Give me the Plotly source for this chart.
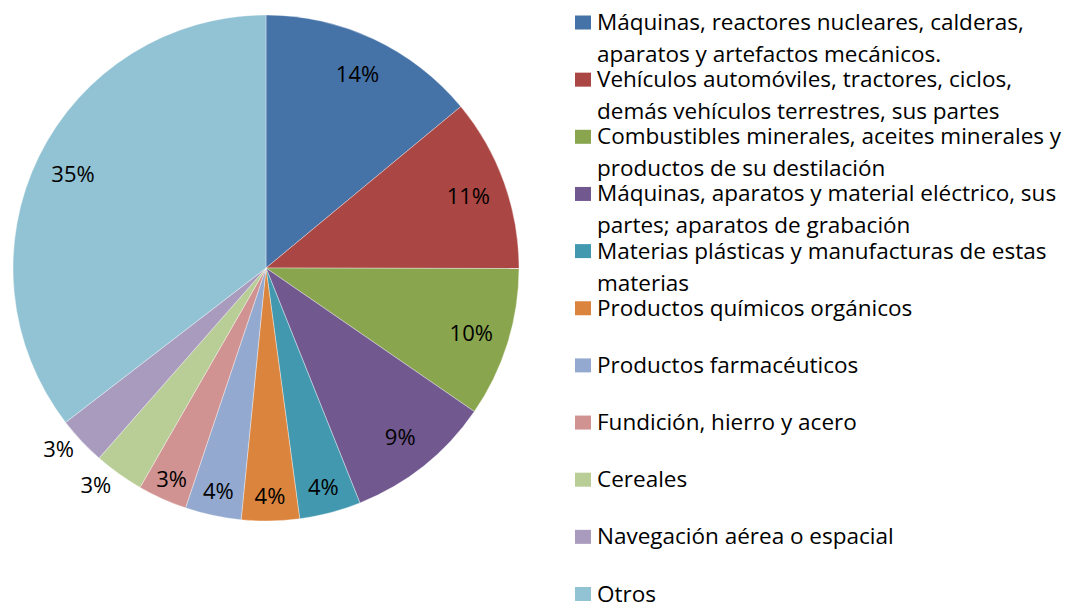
import plotly.graph_objects as go

categories = [
    "Máquinas, reactores nucleares, calderas,<br>aparatos y artefactos mecánicos.",
    "Vehículos automóviles, tractores, ciclos,<br>demás vehículos terrestres, sus partes",
    "Combustibles minerales, aceites minerales y<br>productos de su destilación",
    "Máquinas, aparatos y material eléctrico, sus<br>partes; aparatos de grabación",
    "Materias plásticas y manufacturas de estas<br>materias",
    "Productos químicos orgánicos",
    "Productos farmacéuticos",
    "Fundición, hierro y acero",
    "Cereales",
    "Navegación aérea o espacial",
    "Otros",
]
values = [13.97, 11.03, 9.56, 9.33, 3.92, 3.69, 3.58, 3.14, 3.17, 3.08, 35.4]
colors = ["#4572A7", "#AA4643", "#89A54E", "#71588F", "#4198AF", "#DB843D",
          "#93A9CF", "#D19392", "#B9CD96", "#A99BBD", "#92C3D4"]
label_positions = ["inside"] * 8 + ["outside", "outside", "inside"]

W, H = 1079, 602
OFF = 8  # page body margin
dom_x = [(13 - OFF) / W, (519 - OFF) / W]
dom_y = [1 - (521 - OFF) / H, 1 - (15 - OFF) / H]
FONT = "'Open Sans', 'Noto Sans', sans-serif"

fig = go.Figure()
fig.add_trace(go.Pie(
    labels=[c.replace("<br>", " ") for c in categories], values=values,
    sort=False, direction="clockwise",
    marker=dict(colors=colors, line=dict(color="rgba(255,255,255,0.6)", width=0.6)),
    textinfo="none", hoverinfo="label+percent",
    domain=dict(x=dom_x, y=dom_y), showlegend=False,
))
fig.add_trace(go.Pie(
    labels=[c.replace("<br>", " ") for c in categories], values=values,
    sort=False, direction="clockwise",
    hole=0.7,
    marker=dict(colors=["rgba(0,0,0,0)"] * len(values), line=dict(width=0)),
    texttemplate="%{percent:.0%}", textposition=label_positions,
    insidetextorientation="horizontal",
    textfont=dict(family=FONT, size=22, color="black"),
    hoverinfo="skip", domain=dict(x=dom_x, y=dom_y), showlegend=False,
))

# Legend drawn as colour boxes + text (evenly spaced entries, like the original)
STEP = 57.15
first_line = 21.5 - OFF
line_gap = 32.0
annotations = []
shapes = []
for i, (cat, col) in enumerate(zip(categories, colors)):
    cy = first_line + STEP * i
    shapes.append(dict(
        type="rect", xref="paper", yref="paper",
        x0=(575 - OFF) / W, x1=(591 - OFF) / W,
        y0=1 - (cy + 1 + 7) / H, y1=1 - (cy + 1 - 7) / H,
        fillcolor=col, line=dict(width=0),
    ))
    for j, line in enumerate(cat.split("<br>")):
        annotations.append(dict(
            text=line, xref="paper", yref="paper",
            x=(596 - OFF) / W, y=1 - (cy + j * line_gap) / H,
            xanchor="left", yanchor="middle", showarrow=False, borderpad=0,
            font=dict(family=FONT, size=22.5, color="black"),
        ))

fig.update_layout(
    width=W, height=H,
    margin=dict(l=0, r=0, t=0, b=0),
    paper_bgcolor="white", plot_bgcolor="white",
    uniformtext=dict(minsize=22, mode="show"),
    annotations=annotations, shapes=shapes,
    font=dict(family=FONT),
    showlegend=False,
)

fig.write_html("out.html")
